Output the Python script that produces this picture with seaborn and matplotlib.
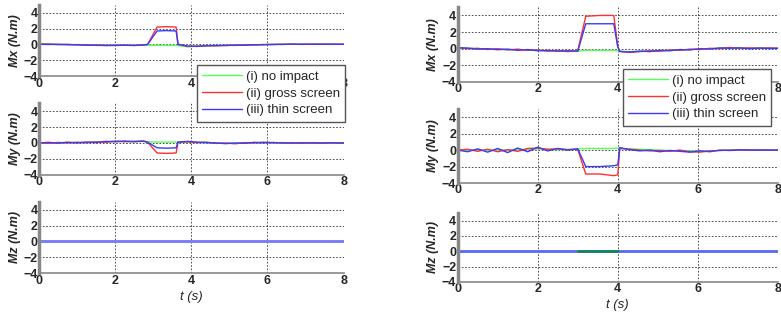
import pandas as pd
import matplotlib.pyplot as plt
import seaborn as sns

# ---- data ----
cases = ["(i) no impact", "(ii) gross screen", "(iii) thin screen"]

# left column time points
t_left = [0, 0.25, 0.5, 0.75, 1.0, 1.25, 1.5, 1.75, 2.0, 2.25, 2.5, 2.75,
          2.85, 3.1, 3.35, 3.6, 3.65, 3.9, 4.15, 4.4, 4.65, 4.9, 5.15, 5.4,
          5.65, 5.9, 6.15, 6.4, 6.65, 6.9, 7.15, 7.4, 7.65, 7.9, 8.0]

mx_left_none = [0.05, 0.02, -0.03, 0.0, -0.05, -0.08, -0.1, -0.12, -0.1, -0.12, -0.1, -0.08,
                -0.1, -0.12, -0.12, -0.12, -0.15, -0.3, -0.2, -0.18, -0.15, -0.12, -0.1, -0.08,
                -0.05, -0.02, 0.0, 0.02, 0.03, 0.02, 0.04, 0.03, 0.02, 0.03, 0.02]
mx_left_gross = [0.03, 0.06, -0.02, 0.02, -0.06, -0.05, -0.12, -0.1, -0.13, -0.1, -0.12, -0.05,
                 0.0, 2.2, 2.25, 2.2, 0.05, -0.25, -0.22, -0.15, -0.18, -0.1, -0.12, -0.05,
                 -0.07, 0.0, -0.02, 0.04, 0.02, 0.05, 0.03, 0.05, 0.01, 0.04, 0.03]
mx_left_thin = [0.02, 0.0, 0.03, -0.04, -0.02, -0.1, -0.08, -0.14, -0.11, -0.09, -0.13, -0.06,
                0.0, 1.7, 1.75, 1.7, 0.0, -0.2, -0.25, -0.17, -0.12, -0.14, -0.08, -0.1,
                -0.03, -0.04, 0.02, 0.0, 0.05, 0.01, 0.03, 0.02, 0.05, 0.02, 0.03]

my_left_none = [0.0, 0.05, 0.02, 0.08, 0.05, 0.1, 0.12, 0.15, 0.2, 0.18, 0.22, 0.2,
                0.15, 0.12, 0.1, 0.12, 0.15, 0.1, 0.08, 0.05, 0.0, -0.05, -0.02, 0.0,
                0.05, 0.08, 0.05, 0.02, 0.0, 0.03, 0.0, 0.02, 0.0, 0.01, 0.0]
my_left_gross = [0.02, -0.05, 0.08, 0.0, 0.1, 0.02, 0.15, 0.08, 0.25, 0.15, 0.2, 0.25,
                 0.1, -1.25, -1.3, -1.25, 0.1, 0.15, 0.05, 0.1, -0.05, 0.0, -0.1, 0.05,
                 0.0, 0.1, 0.02, 0.05, -0.03, 0.05, 0.0, -0.02, 0.03, 0.0, 0.0]
my_left_thin = [0.0, 0.08, -0.03, 0.1, 0.0, 0.12, 0.05, 0.2, 0.15, 0.25, 0.15, 0.22,
                0.1, -0.6, -0.65, -0.6, 0.1, 0.2, 0.1, 0.05, 0.0, -0.08, 0.0, -0.03,
                0.08, 0.02, 0.06, 0.0, 0.02, -0.02, 0.03, 0.0, 0.02, 0.0, 0.0]

mz_t = [0, 8]
mz_zero = [0, 0]

# right column time points
t_right = [0, 0.25, 0.5, 0.75, 1.0, 1.25, 1.5, 1.75, 2.0, 2.25, 2.5, 2.75,
           3.0, 3.2, 3.55, 3.9, 4.0, 4.05, 4.3, 4.55, 4.8, 5.05, 5.3, 5.55,
           5.8, 6.05, 6.3, 6.55, 6.8, 7.05, 7.3, 7.55, 7.8, 8.0]

mx_right_none = [0.1, 0.05, 0.0, -0.05, -0.05, -0.1, -0.15, -0.15, -0.2, -0.25, -0.25, -0.3,
                 -0.3, -0.2, -0.2, -0.2, -0.25, -0.3, -0.35, -0.3, -0.3, -0.25, -0.2, -0.15,
                 -0.1, -0.05, 0.0, 0.05, 0.1, 0.1, 0.05, 0.1, 0.05, 0.05]
mx_right_gross = [0.15, 0.0, 0.05, -0.1, 0.0, -0.15, -0.05, -0.2, -0.15, -0.3, -0.2, -0.35,
                  -0.25, 3.9, 4.0, 4.0, 0.3, -0.3, -0.45, -0.35, -0.25, -0.3, -0.15, -0.2,
                  -0.05, -0.1, 0.05, 0.0, 0.15, 0.05, 0.1, 0.05, 0.1, 0.05]
mx_right_thin = [0.1, 0.08, -0.05, 0.0, -0.12, -0.05, -0.2, -0.1, -0.25, -0.2, -0.3, -0.25,
                 -0.3, 3.0, 3.0, 3.0, 0.2, -0.35, -0.4, -0.3, -0.35, -0.2, -0.25, -0.1,
                 -0.15, 0.0, -0.05, 0.1, 0.05, 0.1, 0.0, 0.08, 0.02, 0.05]

my_right_none = [0.0, -0.05, 0.05, -0.1, 0.05, 0.0, 0.1, 0.05, 0.15, 0.1, 0.05, 0.1,
                 0.15, 0.2, 0.2, 0.2, 0.25, 0.2, 0.15, 0.1, 0.05, 0.0, -0.05, -0.1,
                 -0.1, -0.15, -0.1, -0.05, 0.0, 0.0, 0.02, 0.0, 0.0, 0.0]
my_right_gross = [0.0, 0.1, -0.15, 0.1, -0.2, 0.05, -0.15, 0.2, 0.25, 0.1, 0.15, 0.05,
                  0.1, -2.9, -2.9, -3.1, -3.0, 0.2, 0.1, 0.0, -0.1, -0.05, -0.15, 0.0,
                  -0.2, -0.25, -0.1, -0.05, 0.0, 0.05, 0.0, 0.02, 0.0, 0.0]
my_right_thin = [0.0, -0.2, 0.15, -0.25, 0.2, -0.3, 0.25, -0.2, 0.35, -0.1, 0.2, 0.0,
                 0.15, -2.0, -2.0, -1.9, -1.8, 0.3, 0.05, -0.1, 0.0, -0.2, -0.05, -0.15,
                 -0.25, -0.1, -0.2, 0.0, -0.05, 0.02, 0.0, 0.0, 0.0, 0.0]

mz_right_green_t = [3.0, 4.0]
mz_right_green = [0, 0]

ylabels = ["Mx (N.m)", "My (N.m)", "Mz (N.m)"]

palette = {cases[0]: "#55ff55", cases[1]: "#ff3030", cases[2]: "#3a3aff"}


def long_frame(t, series):
    rows = []
    for name, vals in zip(cases, series):
        for ti, v in zip(t, vals):
            rows.append({"t": ti, "value": v, "case": name})
    return pd.DataFrame(rows)


panels = [
    (t_left, [mx_left_none, mx_left_gross, mx_left_thin]),
    (t_left, [my_left_none, my_left_gross, my_left_thin]),
    (mz_t, [mz_zero, mz_zero, mz_zero]),
    (t_right, [mx_right_none, mx_right_gross, mx_right_thin]),
    (t_right, [my_right_none, my_right_gross, my_right_thin]),
    (mz_t, [mz_zero, mz_zero, mz_zero]),
]

sns.set_style("white")
plt.rcParams['font.family'] = ['Liberation Sans', 'DejaVu Sans']

fig = plt.figure(figsize=(7.81, 3.24), dpi=100)

# axes boxes [left, bottom, width, height] in figure fractions
boxes = [
    [0.050, 0.765, 0.390, 0.220],
    [0.050, 0.460, 0.390, 0.222],
    [0.050, 0.157, 0.390, 0.220],
    [0.586, 0.747, 0.410, 0.231],
    [0.586, 0.435, 0.410, 0.229],
    [0.586, 0.130, 0.410, 0.213],
]

handles = None
for i, (box, (t, series)) in enumerate(zip(boxes, panels)):
    ax = fig.add_axes(box)
    df = long_frame(t, series)
    sns.lineplot(data=df, x="t", y="value", hue="case", palette=palette,
                 sort=False, estimator=None, linewidth=1.0, ax=ax, legend=(i == 0))
    if i == 0:
        handles, labels = ax.get_legend_handles_labels()
        ax.get_legend().remove()
    if i == 5:
        ax.plot(mz_right_green_t, mz_right_green, color="#0a8a4a", lw=1.8)
    if i in (2, 5):
        lines = ax.get_lines()
        lines[2].set_linewidth(2.0)
        lines[2].set_color("#7878ff" if i == 2 else "#5a6aff")

    ax.set_xlim(0, 8)
    ax.set_ylim(-4, 5)
    ax.set_xticks([0, 2, 4, 6, 8])
    ax.set_yticks([-4, -2, 0, 2, 4])
    ax.grid(True, color="black", linestyle=(0, (2, 2)), linewidth=0.6, alpha=0.8)
    ax.tick_params(length=0, labelsize=9, pad=1)
    for lab in ax.get_xticklabels() + ax.get_yticklabels():
        lab.set_fontweight("bold")
    ax.spines["top"].set_visible(False)
    ax.spines["right"].set_visible(False)
    ax.spines["left"].set_color("#888888")
    ax.spines["left"].set_linewidth(2.5)
    ax.spines["bottom"].set_color("#888888")
    ax.spines["bottom"].set_linewidth(1.2)
    ax.set_ylabel(ylabels[i % 3], fontsize=9, fontstyle="italic", fontweight="bold", labelpad=2)
    if i % 3 == 2:
        ax.set_xlabel("t (s)", fontsize=9.5, fontstyle="italic", labelpad=3)
    else:
        ax.set_xlabel("")

legend_kw = dict(loc="upper left", fontsize=9.5, frameon=True, fancybox=False,
                 edgecolor="#555555", framealpha=1, borderaxespad=0,
                 handlelength=3.0, labelspacing=0.36, handletextpad=0.3, borderpad=0.4)
leg1 = fig.legend(handles, labels, bbox_to_anchor=(197 / 781, 1 - 65 / 324), **legend_kw)
leg2 = fig.legend(handles, labels, bbox_to_anchor=(623 / 781, 1 - 69 / 324), **legend_kw)

plt.savefig("out.png", dpi=100)
plt.close()
